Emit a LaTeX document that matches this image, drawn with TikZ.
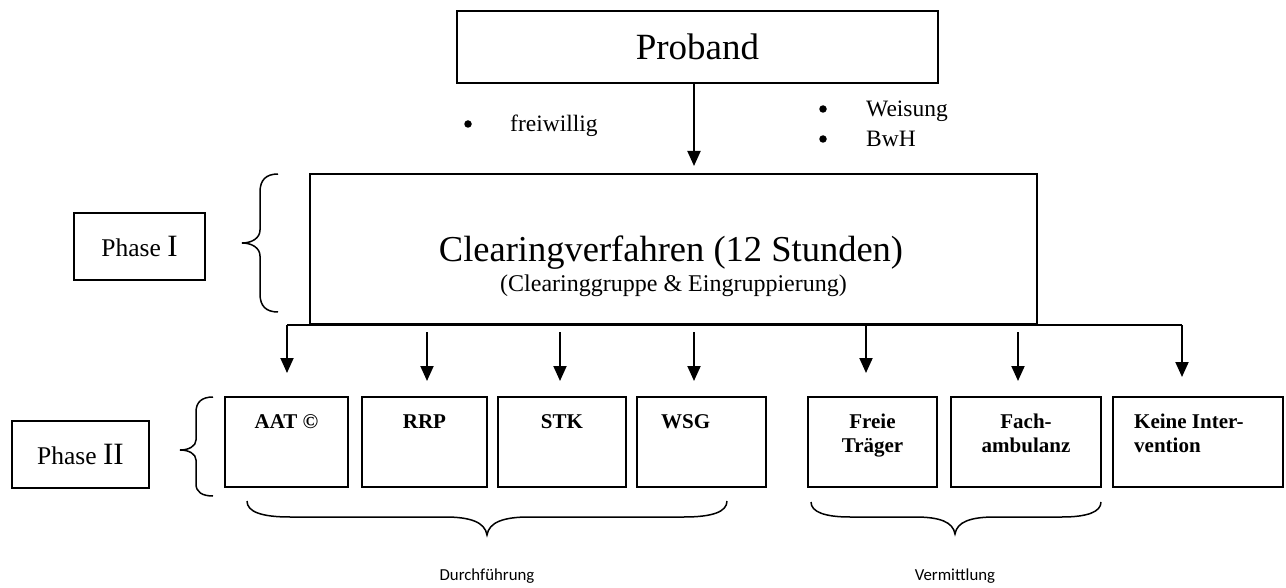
\documentclass[tikz,border=0pt]{standalone}
\usepackage{fontspec}
\setmainfont{Liberation Serif}
\newfontfamily\calfont{Carlito}
\usetikzlibrary{arrows.meta}
\begin{document}
\begin{tikzpicture}[x=1pt,y=-1pt,
  box/.style={draw,line width=1.9pt,rectangle,inner sep=0pt},
  arr/.style={line width=1.9pt,-{Triangle[length=15pt,width=13pt]}},
  ln/.style={line width=1.9pt},
  brc/.style={line width=1.5pt},
  bul/.style={circle,fill,inner sep=0pt,minimum size=7.5pt},
  lbl/.style={inner sep=0pt,anchor=base,font=\fontsize{21}{24}\selectfont\bfseries},
  sm/.style={inner sep=0pt,anchor=base west,font=\fontsize{23.5}{28}\selectfont}]
\useasboundingbox (0,0) rectangle (1286,588);
% top
\node[box,minimum width=481pt,minimum height=72pt] (proband) at (697.5,47) {\fontsize{37}{40}\selectfont Proband};
\node[box,minimum width=727pt,minimum height=150pt] (clearing) at (673.5,249) {};
\node[inner sep=0pt,anchor=base] (cltext) at (671,262) {\fontsize{36.5}{40}\selectfont Clearingverfahren (12 Stunden)};
\node[inner sep=0pt,anchor=base] (clsub) at (673.5,292) {\fontsize{24}{28}\selectfont (Clearinggruppe \& Eingruppierung)};
% bullets
\node[bul] (b1) at (468,124) {};
\node[sm] (t1) at (510,132) {freiwillig};
\node[bul] (b2) at (823,109) {};
\node[sm] (t2) at (866,117) {Weisung};
\node[bul] (b3) at (823,139) {};
\node[sm] (t3) at (866,147) {BwH};
\coordinate (ptip) at (694,166);
\draw[arr] (proband.south -| ptip) -- (ptip);
% phases
\node[box,minimum width=131pt,minimum height=67pt] (phase1) at (139.5,246.5) {{\fontsize{25.5}{30}\selectfont Phase }{\fontsize{31}{36}\selectfont I}};
\node[box,minimum width=137pt,minimum height=67pt] (phase2) at (80.5,454.5) {{\fontsize{25.5}{30}\selectfont Phase }{\fontsize{31}{36}\selectfont II}};
% braces
\draw[brc] (278,174) .. controls (266,174) and (260,180) .. (260,192) -- (260,230) .. controls (260,238) and (252,243) .. (242,243) .. controls (252,243) and (260,248) .. (260,256) -- (260,294) .. controls (260,306) and (266,312) .. (278,312);
\draw[brc] (213,397) .. controls (202,397) and (196,402) .. (196,412) -- (196,440) .. controls (196,446) and (189,450) .. (180,450) .. controls (189,450) and (196,454) .. (196,460) -- (196,484) .. controls (196,492) and (202,496) .. (213,496);
\draw[brc] (247,501) .. controls (247,512) and (262,517) .. (290,517) -- (445,517) .. controls (470,517) and (485,522) .. (487,535) .. controls (489,522) and (504,517) .. (529,517) -- (684,517) .. controls (712,517) and (727,512) .. (727,501);
\draw[brc] (811,502) .. controls (811,512) and (825,517) .. (850,517) -- (915,517) .. controls (940,517) and (953,522) .. (955,534) .. controls (957,522) and (970,517) .. (995,517) -- (1062,517) .. controls (1087,517) and (1101,512) .. (1101,502);
% bottom boxes
\node[box,minimum width=123pt,minimum height=90pt] (aat) at (286.5,442) {};
\node[box,minimum width=125pt,minimum height=90pt] (rrp) at (424.5,442) {};
\node[box,minimum width=128pt,minimum height=90pt] (stk) at (562,442) {};
\node[box,minimum width=129pt,minimum height=90pt] (wsg) at (701.5,442) {};
\node[box,minimum width=129pt,minimum height=90pt] (freie) at (872.5,442) {};
\node[box,minimum width=150pt,minimum height=90pt] (fach) at (1026,442) {};
\node[box,minimum width=170pt,minimum height=90pt] (keine) at (1198,442) {};
\node[lbl] (laat) at (286.5,428) {AAT ©};
\node[lbl] (lrrp) at (424.5,428) {RRP};
\node[lbl] (lstk) at (562,428) {STK};
\node[lbl,anchor=base west] (lwsg) at (661,428) {WSG};
\node[lbl] (lfr1) at (872.5,428) {Freie};
\node[lbl] (lfr2) at (872.5,452) {Träger};
\node[lbl] (lfa1) at (1026,428) {Fach-};
\node[lbl] (lfa2) at (1026,452) {ambulanz};
\node[lbl,anchor=base west] (lke1) at (1134,428) {Keine Inter-};
\node[lbl,anchor=base west] (lke2) at (1134,452) {vention};
% branch line and arrows
\coordinate (bl) at (287,325);
\coordinate (br) at (1182,325);
\draw[ln] (bl) -- (br);
\coordinate (a1t) at (287,373);
\coordinate (a2s) at (427,332); \coordinate (a2t) at (427,381);
\coordinate (a3s) at (560,332); \coordinate (a3t) at (560,381);
\coordinate (a4s) at (694,332); \coordinate (a4t) at (694,381);
\coordinate (a5s) at (866,325); \coordinate (a5t) at (866,373);
\coordinate (a6s) at (1018,332); \coordinate (a6t) at (1018,381);
\coordinate (a7t) at (1182,377);
\draw[arr] (bl) -- (a1t);
\draw[arr] (a2s) -- (a2t);
\draw[arr] (a3s) -- (a3t);
\draw[arr] (a4s) -- (a4t);
\draw[arr] (a5s) -- (a5t);
\draw[arr] (a6s) -- (a6t);
\draw[arr] (br) -- (a7t);
% bottom labels
\node[inner sep=0pt,anchor=base] (durch) at (487,580) {\calfont\fontsize{16.8}{18}\selectfont Durchführung};
\node[inner sep=0pt,anchor=base] (verm) at (955,580) {\calfont\fontsize{16.8}{18}\selectfont Vermittlung};
\end{tikzpicture}
\end{document}
